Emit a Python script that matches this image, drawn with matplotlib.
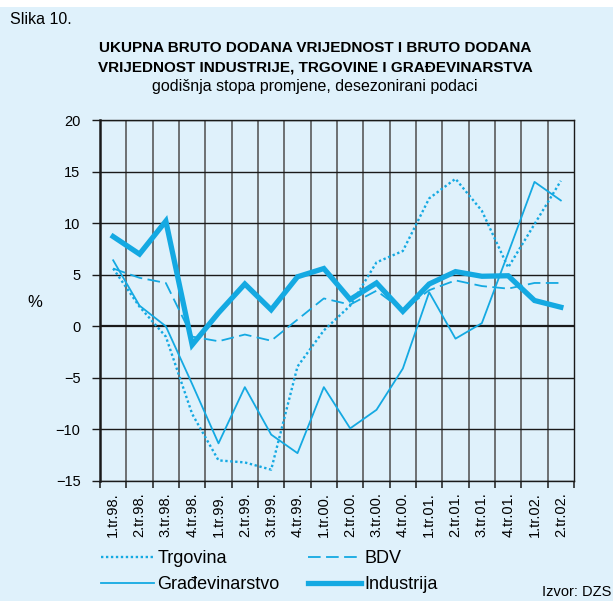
import matplotlib
matplotlib.use("Agg")
import matplotlib.pyplot as plt
from matplotlib.patches import Rectangle
import numpy as np

plt.rcParams["font.family"] = ["Liberation Sans", "DejaVu Sans"]

quarters = ["1.tr.98.", "2.tr.98.", "3.tr.98.", "4.tr.98.",
            "1.tr.99.", "2.tr.99.", "3.tr.99.", "4.tr.99.",
            "1.tr.00.", "2.tr.00.", "3.tr.00.", "4.tr.00.",
            "1.tr.01.", "2.tr.01.", "3.tr.01.", "4.tr.01.",
            "1.tr.02.", "2.tr.02."]

trgovina = [5.6, 1.9, -1.0, -8.5, -13.0, -13.2, -13.9, -3.9, -0.4,
            2.0, 6.2, 7.3, 12.4, 14.3, 11.2, 5.7, 9.9, 14.1]
bdv = [5.6, 4.7, 4.2, -1.0, -1.45, -0.8, -1.4, 0.65, 2.7,
       2.1, 3.45, 1.55, 3.5, 4.45, 3.9, 3.65, 4.2, 4.2]
gradjevinarstvo = [6.4, 2.0, 0.0, -5.6, -11.35, -5.9, -10.5, -12.3, -5.9,
                   -9.9, -8.1, -4.1, 3.3, -1.2, 0.3, 7.1, 14.0, 12.2]
industrija = [8.7, 7.0, 10.2, -1.8, 1.3, 4.1, 1.6, 4.8, 5.6,
              2.6, 4.2, 1.45, 4.1, 5.3, 4.85, 4.9, 2.5, 1.85]

yticks = [20, 15, 10, 5, 0, -5, -10, -15]

BG = "#dff1fb"
BLUE = "#14a9e2"

W, H = 613, 601
fig = plt.figure(figsize=(W / 100, H / 100), dpi=100, facecolor="white")
fig.patches.append(Rectangle((0, 0), 1, 1 - 7 / H, transform=fig.transFigure,
                             facecolor=BG, edgecolor="none", zorder=-10))

ax = fig.add_axes([100 / W, 1 - 481 / H, 474 / W, 361 / H])
ax.set_facecolor(BG)

x = np.arange(len(quarters))
ax.plot(x, trgovina, color=BLUE, lw=1.7, linestyle=(0, (1, 1.1)), label="Trgovina", zorder=3)
ax.plot(x, gradjevinarstvo, color=BLUE, lw=1.3, label="Građevinarstvo", zorder=3)
ax.plot(x, bdv, color=BLUE, lw=1.3, linestyle=(0, (7, 3)), label="BDV", zorder=3)
ax.plot(x, industrija, color=BLUE, lw=3.8, label="Industrija", zorder=4,
        solid_joinstyle="miter")

ax.set_xlim(-0.5, len(quarters) - 0.5)
ax.set_ylim(-15, 20)

# grid: horizontal black, vertical grey at category boundaries
ax.set_yticks(yticks)
ax.set_yticklabels([str(v).replace("-", "\u2212") for v in yticks], fontsize=10.5)
for v in yticks:
    ax.axhline(v, color="#1a1a1a", lw=1.6 if v == 0 else 1.0, zorder=2)
bounds = np.arange(-0.5, len(quarters), 1.0)
for b in bounds[1:-1]:
    ax.axvline(b, color="#4d4d4d", lw=1.1, zorder=1)

ax.set_xticks(x)
ax.set_xticklabels(quarters, rotation=90, fontsize=10.5, va="top")
ax.set_xticks(bounds, minor=True)
ax.tick_params(axis="x", which="major", length=0, pad=8)
ax.tick_params(axis="x", which="minor", length=5, width=1.1, color="#1a1a1a")
ax.tick_params(axis="y", length=6, width=1.0, color="#1a1a1a", pad=8)

for side in ["top", "right", "bottom"]:
    ax.spines[side].set_linewidth(1.0)
    ax.spines[side].set_color("#1a1a1a")
ax.spines["left"].set_linewidth(1.8)
ax.spines["left"].set_color("#1a1a1a")

ax.text(-0.137, 2.3, "%", transform=ax.get_yaxis_transform(), fontsize=12,
        ha="center", va="center")

fig.text(10 / W, 1 - 20 / H, "Slika 10.", fontsize=11.5, ha="left", va="center")
fig.text(315 / W, 1 - 48 / H, "UKUPNA BRUTO DODANA VRIJEDNOST I BRUTO DODANA",
         fontsize=11, fontweight="bold", ha="center", va="center")
fig.text(315 / W, 1 - 67 / H, "VRIJEDNOST INDUSTRIJE, TRGOVINE I GRAĐEVINARSTVA",
         fontsize=11, fontweight="bold", ha="center", va="center")
fig.text(315 / W, 1 - 87 / H, "godišnja stopa promjene, desezonirani podaci",
         fontsize=11.5, ha="center", va="center")

fig.legend(loc="upper left", bbox_to_anchor=(94 / W, 1 - 543 / H), ncol=2,
           frameon=False, fontsize=13, handlelength=2.9, handletextpad=0.2,
           columnspacing=1.6, labelspacing=0.5, borderaxespad=0)

fig.text(611 / W, 1 - 599 / H, "Izvor: DZS", fontsize=10.5, ha="right", va="bottom")

fig.savefig("out.png", dpi=100, facecolor=fig.get_facecolor())
